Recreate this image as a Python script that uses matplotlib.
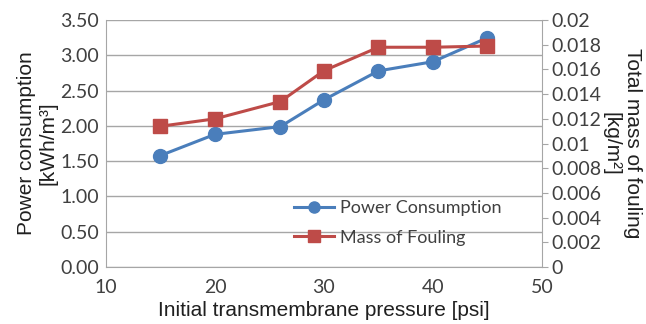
import matplotlib
matplotlib.use("Agg")
import matplotlib.pyplot as plt

pressure = [15, 20, 26, 30, 35, 40, 45]
power = [1.58, 1.88, 1.99, 2.37, 2.78, 2.91, 3.25]
fouling = [0.0114, 0.0120, 0.0134, 0.0159, 0.0178, 0.0178, 0.0179]

blue = "#4a7ebb"
red = "#be4b48"
grid = "#a6a6a6"

fig = plt.figure(figsize=(6.46, 3.24), dpi=100)
ax = fig.add_axes([0.164, 0.176, 0.675, 0.762])
ax2 = ax.twinx()

ax.set_xlim(10, 50)
ax.set_ylim(0, 3.5)
ax2.set_ylim(0, 0.02)
ax.set_xticks([10, 20, 30, 40, 50])
ax.set_yticks([0, 0.5, 1, 1.5, 2, 2.5, 3, 3.5])
ax.set_yticklabels([f"{v:.2f}" for v in ax.get_yticks()])
ax2.set_yticks([0, 0.002, 0.004, 0.006, 0.008, 0.01, 0.012, 0.014, 0.016, 0.018, 0.02])
ax2.set_yticklabels(["0", "0.002", "0.004", "0.006", "0.008", "0.01", "0.012", "0.014", "0.016", "0.018", "0.02"])

ax.grid(axis="y", color=grid, lw=1)
ax.set_axisbelow(True)
for s in ["top", "right"]:
    ax.spines[s].set_visible(False)
ax.spines["left"].set_color(grid)
ax.spines["bottom"].set_color(grid)
ax2.spines["top"].set_visible(False)
ax2.spines["left"].set_visible(False)
ax2.spines["bottom"].set_visible(False)
ax2.spines["right"].set_color(grid)

ax.tick_params(axis="y", length=0, pad=5, colors="#404040")
ax.tick_params(axis="x", length=0, pad=9, colors="#404040")
ax2.tick_params(axis="y", length=4, color=grid, pad=3, labelcolor="#404040")
for lab in ax.get_xticklabels() + ax.get_yticklabels() + ax2.get_yticklabels():
    lab.set_fontfamily("Lato")
    lab.set_fontsize(14)

l1, = ax.plot(pressure, power, color=blue, lw=2.2, marker="o", ms=10, label="Power Consumption")
l2, = ax2.plot(pressure, fouling, color=red, lw=2.2, marker="s", ms=10, label="Mass of Fouling")

lab_font = dict(fontfamily="Liberation Sans", fontsize=15, color="#202020")
ax.set_xlabel("Initial transmembrane pressure [psi]", labelpad=3, **lab_font)

ymid = 0.176 + 0.762 / 2
fig.text(37 / 646, ymid, "Power consumption\n[kWh/m³]", rotation=90, ha="center", va="center",
         linespacing=1.15, multialignment="center", **lab_font)
fig.text(622 / 646, ymid, "Total mass of fouling\n[kg/m²]", rotation=270, ha="center", va="center",
         linespacing=1.15, multialignment="center", **lab_font)

leg = ax.legend([l1, l2], ["Power Consumption", "Mass of Fouling"], loc="lower left",
                bbox_to_anchor=(0.395, 0.02), frameon=False, prop=dict(family="Lato", size=13),
                handlelength=2.2, handletextpad=0.3, labelspacing=0.75, markerscale=0.8)
for t in leg.get_texts():
    t.set_color("#404040")

fig.savefig("out.png", dpi=100)
